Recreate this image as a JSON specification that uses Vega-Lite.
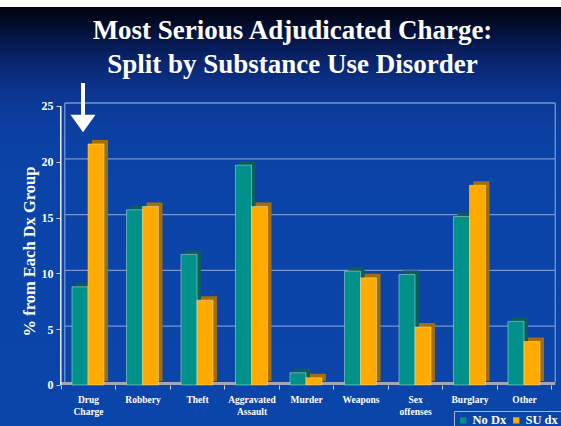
{
  "$schema": "https://vega.github.io/schema/vega-lite/v6.json",
  "width": 561,
  "height": 419,
  "autosize": {"type": "none"},
  "padding": {"top": 7, "left": 0, "right": 0, "bottom": 0},
  "background": "white",
  "config": {
    "view": {
      "stroke": null,
      "fill": {
        "gradient": "linear", "x1": 0, "y1": 0, "x2": 0, "y2": 1,
        "stops": [
          {"offset": 0, "color": "#01040f"},
          {"offset": 0.031, "color": "#020a22"},
          {"offset": 0.079, "color": "#05174a"},
          {"offset": 0.126, "color": "#09246c"},
          {"offset": 0.174, "color": "#0b2f84"},
          {"offset": 0.222, "color": "#0b3895"},
          {"offset": 0.294, "color": "#0b40a3"},
          {"offset": 0.461, "color": "#0a44a9"},
          {"offset": 1, "color": "#0a45aa"}
        ]
      }
    }
  },
  "title": {
    "text": ["Most Serious Adjudicated Charge:", "Split by Substance Use Disorder"],
    "font": "Liberation Serif",
    "fontSize": 27,
    "fontWeight": "bold",
    "color": "white",
    "lineHeight": 34,
    "anchor": "middle",
    "frame": "group",
    "orient": "top",
    "baseline": "top",
    "offset": -72,
    "dx": 12
  },
  "data": {
    "values": [
      {"category": "Drug Charge", "series": "No Dx", "pct": 8.8},
      {"category": "Drug Charge", "series": "SU dx", "pct": 21.6},
      {"category": "Robbery", "series": "No Dx", "pct": 15.7},
      {"category": "Robbery", "series": "SU dx", "pct": 16.0},
      {"category": "Theft", "series": "No Dx", "pct": 11.7},
      {"category": "Theft", "series": "SU dx", "pct": 7.6},
      {"category": "Aggravated Assault", "series": "No Dx", "pct": 19.7},
      {"category": "Aggravated Assault", "series": "SU dx", "pct": 16.0},
      {"category": "Murder", "series": "No Dx", "pct": 1.1},
      {"category": "Murder", "series": "SU dx", "pct": 0.65},
      {"category": "Weapons", "series": "No Dx", "pct": 10.2},
      {"category": "Weapons", "series": "SU dx", "pct": 9.6},
      {"category": "Sex offenses", "series": "No Dx", "pct": 9.9},
      {"category": "Sex offenses", "series": "SU dx", "pct": 5.2},
      {"category": "Burglary", "series": "No Dx", "pct": 15.1},
      {"category": "Burglary", "series": "SU dx", "pct": 17.9},
      {"category": "Other", "series": "No Dx", "pct": 5.7},
      {"category": "Other", "series": "SU dx", "pct": 3.9}
    ]
  },
  "resolve": {"scale": {"xOffset": "independent"}},
  "layer": [
    {
      "data": {"values": [{"v": 5}, {"v": 10}, {"v": 15}, {"v": 20}, {"v": 25}]},
      "mark": {"type": "rule", "color": "#7595d6", "strokeWidth": 1.3, "xOffset": 4, "x2Offset": 4, "yOffset": -3},
      "encoding": {
        "x": {"datum": "Drug Charge", "type": "nominal", "bandPosition": 0},
        "x2": {"datum": "Other", "bandPosition": 1},
        "y": {"field": "v", "type": "quantitative"}
      }
    },
    {
      "data": {"values": [{}]},
      "mark": {"type": "rule", "color": "#7595d6", "strokeWidth": 1.3, "xOffset": 4, "yOffset": -3, "y2Offset": -3},
      "encoding": {
        "x": {"datum": "Drug Charge", "type": "nominal", "bandPosition": 0},
        "y": {"datum": 0, "type": "quantitative"},
        "y2": {"datum": 25}
      }
    },
    {
      "data": {"values": [{}]},
      "mark": {"type": "rule", "color": "#7595d6", "strokeWidth": 1.3, "xOffset": 4, "yOffset": -3, "y2Offset": -3},
      "encoding": {
        "x": {"datum": "Other", "type": "nominal", "bandPosition": 1},
        "y": {"datum": 0, "type": "quantitative"},
        "y2": {"datum": 25}
      }
    },
    {
      "data": {"values": [{}]},
      "mark": {"type": "rule", "color": "#a3a6b8", "strokeWidth": 3, "x2Offset": 4, "yOffset": -1.5},
      "encoding": {
        "x": {"datum": "Drug Charge", "type": "nominal", "bandPosition": 0},
        "x2": {"datum": "Other", "bandPosition": 1},
        "y": {"datum": 0, "type": "quantitative"}
      }
    },
    {
      "data": {"values": [{}]},
      "mark": {"type": "rule", "color": "#e8eefa", "strokeWidth": 1.5},
      "encoding": {
        "x": {"datum": "Drug Charge", "type": "nominal", "bandPosition": 0},
        "y": {"datum": 0, "type": "quantitative"},
        "y2": {"datum": 25}
      }
    },
    {
      "mark": {"type": "bar", "yOffset": -4, "y2Offset": -4},
      "encoding": {
        "x": {"field": "category", "type": "nominal"},
        "xOffset": {"field": "series", "type": "nominal", "scale": {"domain": ["No Dx", "SU dx"], "paddingInner": 0, "paddingOuter": 0.7, "align": 0.678}},
        "y": {"field": "pct", "type": "quantitative"},
        "color": {"condition": {"test": "datum.series === 'No Dx'", "value": "#0b5f5a"}, "value": "#a56e00"}
      }
    },
    {
      "mark": {"type": "bar", "stroke": "#e8f2f2", "strokeWidth": 0.8, "strokeOpacity": 0.55},
      "encoding": {
        "x": {
          "field": "category", "type": "nominal",
          "scale": {
            "domain": ["Drug Charge", "Robbery", "Theft", "Aggravated Assault", "Murder", "Weapons", "Sex offenses", "Burglary", "Other"],
            "paddingInner": 0, "paddingOuter": 0.647, "align": 0.8617
          },
          "axis": {
            "title": null, "offset": -41, "domain": false, "ticks": true, "tickBand": "extent",
            "bandPosition": 0.5, "labelAlign": "center", "labelBaseline": "top",
            "tickSize": 4, "tickColor": "#c8d4ee", "labelAngle": 0,
            "labelColor": "white", "labelFont": "Liberation Serif", "labelFontWeight": "bold",
            "labelFontSize": 9.5, "labelPadding": 5, "labelLineHeight": 12.5,
            "labelExpr": "split(datum.label, ' ')"
          }
        },
        "xOffset": {"field": "series", "type": "nominal", "scale": {"domain": ["No Dx", "SU dx"], "paddingInner": 0, "paddingOuter": 0.7}},
        "y": {
          "field": "pct", "type": "quantitative",
          "scale": {"domain": [-3.674, 33.871], "nice": false, "zero": false},
          "axis": {
            "title": "% from Each Dx Group", "values": [0, 5, 10, 15, 20, 25],
            "offset": -60, "domain": false, "grid": false, "ticks": true,
            "tickSize": 4, "tickColor": "#c8d4ee",
            "labelColor": "white", "labelFont": "Liberation Serif", "labelFontWeight": "bold",
            "labelFontSize": 12, "labelPadding": 3,
            "titleColor": "white", "titleFont": "Liberation Serif", "titleFontWeight": "bold",
            "titleFontSize": 16.5, "titlePadding": 4, "titleY": 244
          }
        },
        "color": {
          "field": "series", "type": "nominal",
          "scale": {"domain": ["No Dx", "SU dx"], "range": ["#00918b", "#ffaa00"]},
          "legend": {
            "orient": "none", "legendX": 454, "legendY": 404, "direction": "horizontal",
            "title": null, "strokeColor": "#a9b4d6", "padding": 3,
            "symbolType": "square", "symbolSize": 40, "symbolStrokeWidth": 0,
            "labelColor": "white", "labelFont": "Liberation Serif", "labelFontWeight": "bold",
            "labelFontSize": 12.5, "columnPadding": 3, "labelOffset": 3
          }
        }
      }
    },
    {
      "data": {"values": [{"category": "Drug Charge", "top": 27.06, "base": 24.0}]},
      "mark": {"type": "rule", "color": "white", "strokeWidth": 4, "xOffset": -5},
      "encoding": {
        "x": {"field": "category", "type": "nominal"},
        "y": {"field": "top", "type": "quantitative"},
        "y2": {"field": "base"}
      }
    },
    {
      "data": {"values": [{"category": "Drug Charge", "head": 23.43}]},
      "mark": {"type": "point", "shape": "M-1,-0.7L1,-0.7L0,0.7Z", "size": 625, "filled": true, "opacity": 1, "color": "white", "xOffset": -5},
      "encoding": {
        "x": {"field": "category", "type": "nominal"},
        "y": {"field": "head", "type": "quantitative"}
      }
    }
  ]
}
